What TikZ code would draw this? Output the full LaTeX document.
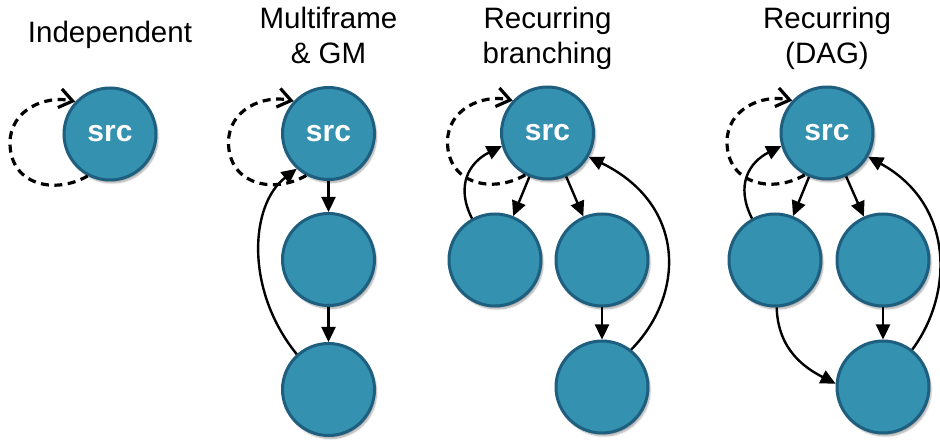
\documentclass[tikz,border=0pt]{standalone}
\usepackage{fontspec}
\newfontfamily\hel{Liberation Sans}
\usetikzlibrary{arrows.meta,shadows.blur,calc}
\definecolor{nfill}{RGB}{52,145,176}
\definecolor{nborder}{RGB}{30,94,126}
\begin{document}
\begin{tikzpicture}[x=1pt,y=1pt,
  task/.style={circle, fill=nfill, draw=nborder, line width=3pt, minimum size=92pt, inner sep=0pt, text=white,
    font=\hel\bfseries\fontsize{30}{36}\selectfont,
    blur shadow={shadow xshift=2pt, shadow yshift=-3pt, shadow blur steps=8, shadow opacity=35}},
  title/.style={font=\hel\fontsize{29.5}{35}\selectfont, align=center, inner sep=0pt},
  edge/.style={draw=black, line width=2.4pt, -{Triangle[length=15pt,width=14pt]}},
  selfloop/.style={draw=black, line width=3.2pt, dash pattern=on 8pt off 5.5pt, -{Straight Barb[length=13pt,width=19pt]}}
]
\useasboundingbox (0,0) rectangle (940,443);

% titles
\node[title, anchor=base] (t1) at (110,400) {Independent};
\node[title, anchor=north] (t2) at (328.5,436) {Multiframe\\\& GM};
\node[title, anchor=north] (t3) at (547.5,436) {Recurring\\branching};
\node[title, anchor=north] (t4) at (827,436) {Recurring\\(DAG)};

% nodes
\node[task] (a0) at (110,309) {src};

\node[task] (b0) at (328.5,309.5) {src};
\node[task] (b1) at (328.5,183.5) {};
\node[task] (b2) at (328.5,53.5) {};

\node[task] (c0) at (547.5,310) {src};
\node[task] (c1) at (495,183) {};
\node[task] (c2) at (602,183) {};
\node[task] (c3) at (602,56) {};

\node[task] (d0) at (827,310) {src};
\node[task] (d1) at (775,183) {};
\node[task] (d2) at (883,183) {};
\node[task] (d3) at (883,56) {};

% self loops
\foreach \X in {a0,b0,c0,d0}{
  \draw[selfloop] (\X.242) .. controls ($(\X)+(-55,-61)$) and ($(\X)+(-100,-51)$) .. ($(\X)+(-100,-9)$)
     .. controls ($(\X)+(-100,24)$) and ($(\X)+(-65,39)$) .. (\X.137);
}

% panel 2
\draw[edge] (b0) -- (b1);
\draw[edge] (b1) -- (b2);
\draw[edge] (b2.132) .. controls +(-52,64) and +(-47,-36) .. (b0.228);

% panel 3
\draw[edge] (c0) -- (c1);
\draw[edge] (c0) -- (c2);
\draw[edge] (c2) -- (c3);
\draw[edge] (c1.119) .. controls +(-17,33.5) and +(-32,-16) .. (c0.196);
\draw[edge] (c3.52) .. controls +(54,55) and +(98,-48) .. (c0.330);

% panel 4
\draw[edge] (d0) -- (d1);
\draw[edge] (d0) -- (d2);
\draw[edge] (d2) -- (d3);
\draw[edge] (d1.119) .. controls +(-17,33.5) and +(-32,-16) .. (d0.196);
\draw[edge] (d3.52) .. controls +(41,55) and +(87,-48) .. (d0.330);
\draw[edge] (d1.272) .. controls +(1.3,-42.5) and +(-30.6,15.7) .. (d3.176);
\end{tikzpicture}
\end{document}
